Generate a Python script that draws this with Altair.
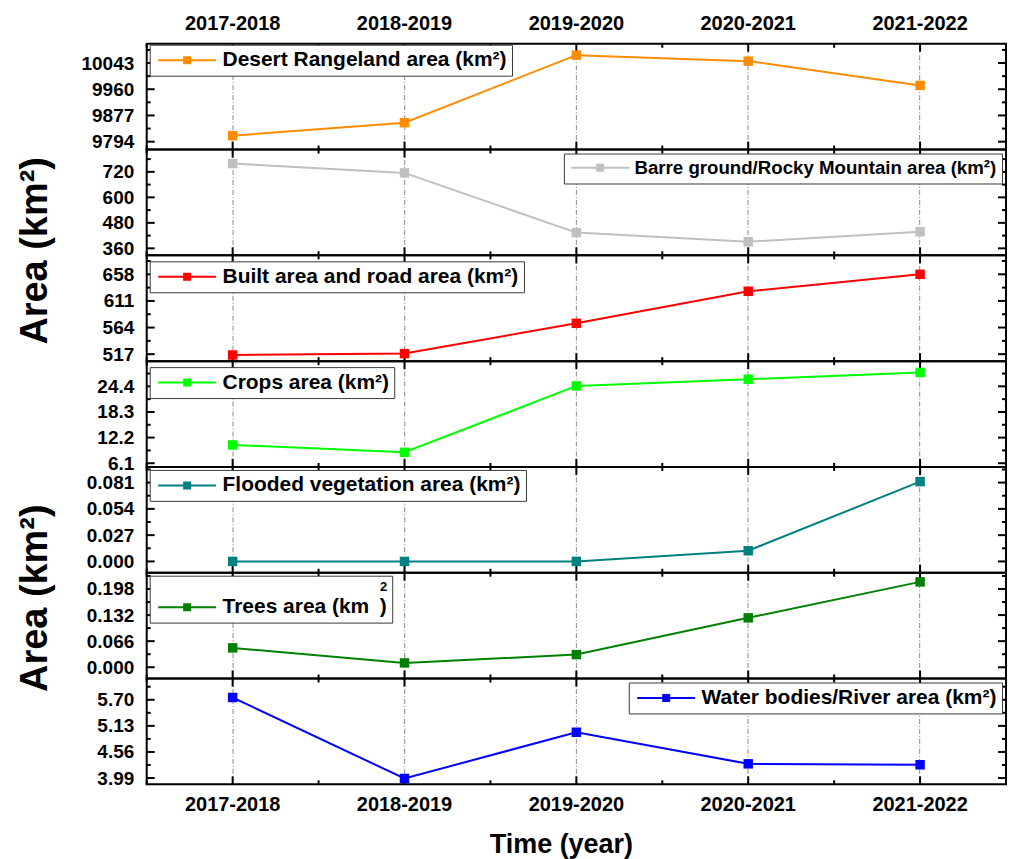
import altair as alt
import pandas as pd

# ---- data -------------------------------------------------------------
YEARS = ["2017-2018", "2018-2019", "2019-2020", "2020-2021", "2021-2022"]

DESERT = [9813, 9854, 10068, 10049, 9972]
BARREN = [759, 715, 434, 391, 438]
BUILT = [515.5, 518, 571.5, 628, 658]
CROPS = [10.45, 8.7, 24.5, 26.1, 27.7]
FLOODED = [0.0, 0.0, 0.0, 0.011, 0.082]
TREES = [0.049, 0.011, 0.032, 0.125, 0.216]
WATER = [5.75, 3.98, 4.99, 4.30, 4.28]

SERIES = [DESERT, BARREN, BUILT, CROPS, FLOODED, TREES, WATER]

LABELS = [
    "Desert Rangeland area (km²)",
    "Barre ground/Rocky Mountain area (km²)",
    "Built area and road area (km²)",
    "Crops area (km²)",
    "Flooded vegetation area (km²)",
    "Trees area (km\u2002)",
    "Water bodies/River area (km²)",
]

Y_TICKS = [
    [9794, 9877, 9960, 10043],
    [360, 480, 600, 720],
    [517, 564, 611, 658],
    [6.1, 12.2, 18.3, 24.4],
    [0.0, 0.027, 0.054, 0.081],
    [0.0, 0.066, 0.132, 0.198],
    [3.99, 4.56, 5.13, 5.70],
]
Y_DOMAINS = [
    [9769, 10104],
    [327, 825],
    [504.7, 691.5],
    [5.22, 30.4],
    [-0.0116, 0.0971],
    [-0.0285, 0.2392],
    [3.853, 6.165],
]

# ---- styling ----------------------------------------------------------
COLORS = ["#FF8C00", "#C0C0C0", "#FF0000", "#00FF00", "#008080", "#008000", "#0000FF"]
FORMATS = ["d", "d", "d", ".1f", ".3f", ".3f", ".2f"]
LEGEND_POS = [("none", 3, 1), ("top-right", 4), ("none", 3, 6), ("none", 3, 6),
              ("none", 3, 3), ("none", 3, 3), ("top-right", 4)]
LEGEND_FONT_SIZES = [21, 18.7, 21, 21, 21, 21, 21]
FONT = "Liberation Sans"
W, H = 861, 106
MAJOR_LEN, MINOR_LEN = 8, 4
GRID_DASH = [5, 2, 1, 2]
# line with a small square in the middle, used as the legend key
KEY_PATH = "M-5.8,0H5.8M-0.6,-0.6H0.6V0.6H-0.6Z"


def minor_values(major, lo, hi):
    half = (major[1] - major[0]) / 2
    cand = [major[0] - half] + [(a + b) / 2 for a, b in zip(major, major[1:])] + [major[-1] + half]
    return [v for v in cand if lo <= v <= hi]


def panel(i):
    color = COLORS[i]
    lo, hi = Y_DOMAINS[i]
    last = len(SERIES) - 1
    xscale = alt.Scale(type="band", domain=YEARS, paddingInner=0, paddingOuter=0)
    yscale = alt.Scale(domain=[lo, hi], zero=False, nice=False)

    # x axis: category labels on top of the first panel and under the last one
    axis_kw = dict(grid=True, gridDash=GRID_DASH, gridColor="#8a8a8a", gridWidth=1,
                   ticks=False, domain=False, bandPosition=0.5, labelAngle=0,
                   labelFontSize=20, labelFontWeight="bold", labelPadding=10)
    if i == 0:
        x_axis = alt.Axis(orient="top", labels=True, title=None, **axis_kw)
    elif i == last:
        x_axis = alt.Axis(orient="bottom", labels=True, title="Time (year)",
                          titleFontSize=27, titleFontWeight="bold", titlePadding=17,
                          titleX=415, titleAlign="center", **axis_kw)
    else:
        x_axis = alt.Axis(orient="bottom", labels=False, title=None, **axis_kw)

    y_kw = dict(values=Y_TICKS[i], format=FORMATS[i], ticks=False, domain=False, grid=False,
                labelFontSize=19, labelFontWeight="bold", labelPadding=13)
    if i in (1, 5):
        y_axis = alt.Axis(title="Area (km²)", titleFontSize=38, titleFontWeight="bold",
                          titleAngle=270, titleBaseline="alphabetic", titleAlign="center",
                          titleX=-100, titleY=101 if i == 1 else 25, **y_kw)
    else:
        y_axis = alt.Axis(title=None, **y_kw)

    # every layer carries the same axis definitions so they merge cleanly
    def xf(band):
        return alt.X("year:N", scale=xscale, bandPosition=band, axis=x_axis)

    def yf(field):
        return alt.Y(f"{field}:Q", scale=yscale, axis=y_axis)

    df = pd.DataFrame({"year": YEARS, "value": SERIES[i], "series": LABELS[i]})

    pos = LEGEND_POS[i]
    legend_kw = dict(symbolType=KEY_PATH, symbolSize=100, symbolFillColor=color,
                     symbolStrokeColor=color, symbolStrokeWidth=2, symbolOpacity=1,
                     symbolOffset=22, labelOffset=25, labelFontSize=LEGEND_FONT_SIZES[i],
                     labelFontWeight="bold", labelColor="black", labelLimit=900,
                     padding=5, strokeColor="#3a3a3a", fillColor="white", cornerRadius=0)
    if pos[0] == "none":
        legend_kw.update(orient="none", legendX=pos[1], legendY=pos[2])
    else:
        legend_kw.update(orient=pos[0], offset=pos[1])
    if i == 5:
        legend_kw.update(title="2", titleFontSize=13, titleFontWeight="bold",
                         titleAnchor="end", titlePadding=3, titleColor="black")
    else:
        legend_kw.update(title=None)

    line = alt.Chart(df).mark_line(color=color, strokeWidth=2).encode(x=xf(0.5), y=yf("value"))
    points = alt.Chart(df).mark_square(size=90, opacity=1, filled=True).encode(
        x=xf(0.5),
        y=yf("value"),
        color=alt.Color("series:N", scale=alt.Scale(domain=[LABELS[i]], range=[color]),
                        legend=alt.Legend(**legend_kw)),
    )

    # inward ticks on all four sides of the panel
    xt = pd.DataFrame({"year": YEARS})
    rule = dict(color="black", strokeWidth=2)
    x_ticks = [
        alt.Chart(xt).mark_rule(**rule).encode(x=xf(0.5), y=alt.value(0), y2=alt.value(MAJOR_LEN)),
        alt.Chart(xt).mark_rule(**rule).encode(x=xf(0.5), y=alt.value(H - MAJOR_LEN), y2=alt.value(H)),
        alt.Chart(xt).mark_rule(**rule).encode(x=xf(0), y=alt.value(0), y2=alt.value(MINOR_LEN)),
        alt.Chart(xt).mark_rule(**rule).encode(x=xf(0), y=alt.value(H - MINOR_LEN), y2=alt.value(H)),
    ]
    ymaj = pd.DataFrame({"v": Y_TICKS[i]})
    ymin = pd.DataFrame({"v": minor_values(Y_TICKS[i], lo, hi)})
    y_ticks = [
        alt.Chart(ymaj).mark_rule(**rule).encode(y=yf("v"), x=alt.value(0), x2=alt.value(MAJOR_LEN)),
        alt.Chart(ymaj).mark_rule(**rule).encode(y=yf("v"), x=alt.value(W - MAJOR_LEN), x2=alt.value(W)),
        alt.Chart(ymin).mark_rule(**rule).encode(y=yf("v"), x=alt.value(0), x2=alt.value(MINOR_LEN)),
        alt.Chart(ymin).mark_rule(**rule).encode(y=yf("v"), x=alt.value(W - MINOR_LEN), x2=alt.value(W)),
    ]

    return alt.layer(line, *x_ticks, *y_ticks, points).properties(width=W, height=H)


chart = (
    alt.vconcat(*[panel(i) for i in range(len(SERIES))], spacing=0, bounds="flush")
    .resolve_scale(x="independent", y="independent", color="independent")
    .resolve_legend(color="independent")
    .properties(padding={"left": 16, "top": 12, "right": 5, "bottom": 0})
    .configure(font=FONT)
    .configure_view(stroke="black", strokeWidth=2)
    .configure_axis(labelFont=FONT, titleFont=FONT, labelColor="black", titleColor="black")
    .configure_legend(labelFont=FONT, titleFont=FONT)
)

chart.save("out.html", embed_options={"renderer": "svg", "actions": False})
